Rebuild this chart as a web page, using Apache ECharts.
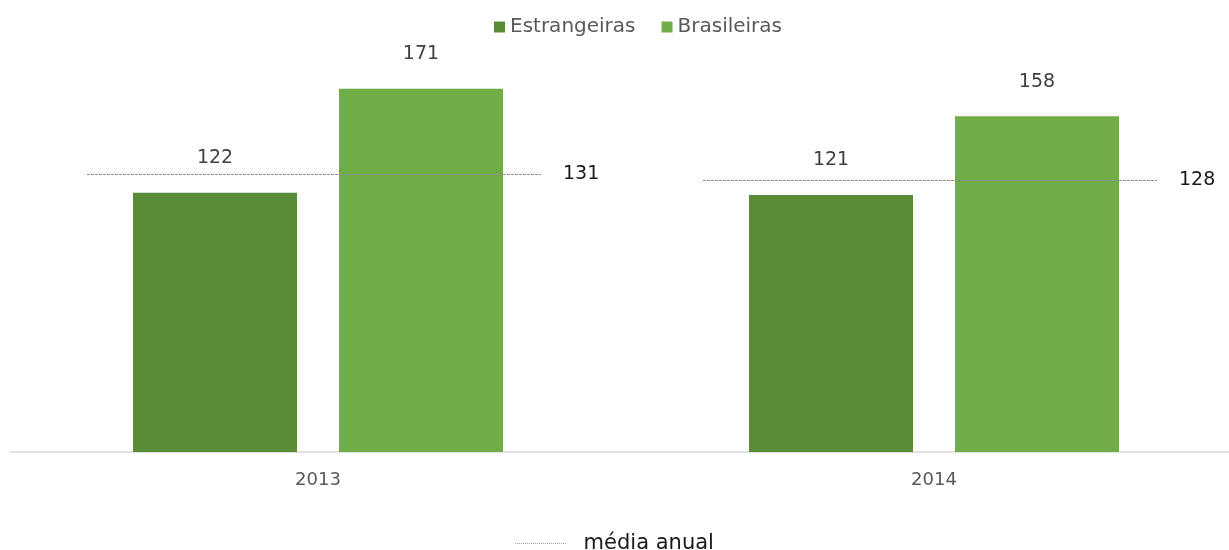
<!DOCTYPE html>
<html>
<head>
<meta charset="utf-8">
<script src="https://cdn.jsdelivr.net/npm/echarts@6/dist/echarts.min.js"></script>
<style>
  html, body { margin: 0; padding: 0; background: #fff; }
  #chart { width: 1229px; height: 550px; }
</style>
</head>
<body>
<div id="chart"></div>
<script>
// Anos e valores por origem
const years = ['2013', '2014'];
const estrangeiras = [122, 121];
const brasileiras = [171, 158];
const mediaAnual = [131, 128];

const FONT = '"DejaVu Sans", sans-serif';
const DARK_GREEN = '#5a8c37';
const LIGHT_GREEN = '#70ad47';

// Ícone pontilhado para a legenda da média
let dotted = 'path://';
for (let i = 0; i < 26; i++) dotted += 'M' + (i * 2) + ',0h1v1h-1z';

const chart = echarts.init(document.getElementById('chart'));

// Linha tracejada da média anual, desenhada sobre cada categoria
function renderMedia(params, api) {
  const idx = api.value(0);
  const val = api.value(1);
  const pt = api.coord([idx, val]);
  const band = api.size([1, 0])[0];
  const x1 = pt[0] - band * 0.375;
  const x2 = pt[0] + band * 0.362;
  // alinhado ao pixel para ficar nítido sobre as barras
  const y = Math.round(pt[1]) + 0.5;
  return {
    type: 'group',
    children: [
      {
        type: 'line',
        z2: 100,
        shape: { x1: x1, y1: y, x2: x2, y2: y },
        style: { stroke: '#8f8f8f', lineWidth: 1, lineDash: [3, 1] }
      },
      {
        type: 'text',
        x: x2 + 22,
        y: pt[1],
        style: {
          text: String(val),
          font: '19px ' + FONT,
          fill: '#1a1a1a',
          textVerticalAlign: 'middle',
          textAlign: 'left'
        }
      }
    ]
  };
}

chart.setOption({
  animation: false,
  backgroundColor: '#ffffff',
  textStyle: { fontFamily: FONT },
  legend: [
    {
      data: ['Estrangeiras', 'Brasileiras'],
      top: 12,
      left: 489,
      itemWidth: 11,
      itemHeight: 11,
      itemGap: 26,
      icon: 'rect',
      textStyle: { color: '#595959', fontSize: 20, fontFamily: FONT }
    },
    {
      data: [{ name: 'média anual', icon: dotted, itemStyle: { color: '#9a9a9a' } }],
      bottom: -9,
      left: 'center',
      itemWidth: 52,
      itemHeight: 1,
      textStyle: { color: '#1a1a1a', fontSize: 21, fontFamily: FONT, padding: [0, 0, 0, 12] }
    }
  ],
  grid: {
    left: 10,
    width: 1232,
    top: 27,
    height: 425,
    outerBoundsMode: 'none',
    containLabel: false
  },
  xAxis: {
    type: 'category',
    data: years,
    axisLine: { show: true, lineStyle: { color: '#d9d9d9', width: 1.5 } },
    axisTick: { show: false },
    axisLabel: { color: '#595959', fontSize: 18, margin: 19, fontFamily: FONT }
  },
  yAxis: {
    type: 'value',
    min: 0,
    max: 200,
    show: false,
    splitLine: { show: false }
  },
  series: [
    {
      name: 'Estrangeiras',
      type: 'bar',
      data: estrangeiras,
      barWidth: 164,
      barGap: '25.6%',
      itemStyle: { color: DARK_GREEN },
      label: {
        show: true,
        position: 'top',
        distance: 25,
        color: '#404040',
        fontSize: 19,
        fontFamily: FONT
      }
    },
    {
      name: 'Brasileiras',
      type: 'bar',
      data: brasileiras,
      barWidth: 164,
      itemStyle: { color: LIGHT_GREEN },
      label: {
        show: true,
        position: 'top',
        distance: 25,
        color: '#404040',
        fontSize: 19,
        fontFamily: FONT
      }
    },
    {
      name: 'média anual',
      type: 'custom',
      data: mediaAnual.map((v, i) => [i, v]),
      renderItem: renderMedia,
      itemStyle: { color: '#9a9a9a' },
      z: 10
    }
  ]
});
</script>
</body>
</html>
